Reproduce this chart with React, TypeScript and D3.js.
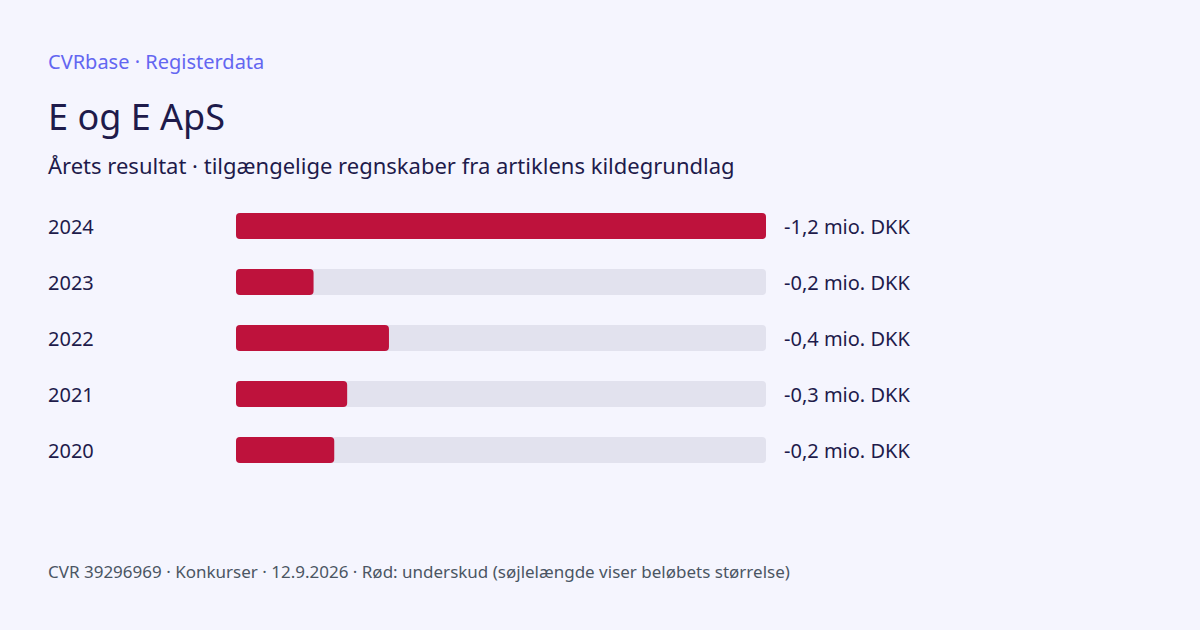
import React from "react";
import * as d3 from "d3";

const years = ["2024", "2023", "2022", "2021", "2020"];
const values = [-1.23, -0.18, -0.355, -0.258, -0.228];
const valueLabels = ["-1,2 mio. DKK", "-0,2 mio. DKK", "-0,4 mio. DKK", "-0,3 mio. DKK", "-0,2 mio. DKK"];

const W = 1200;
const H = 630;
const FONT = "'Noto Sans', sans-serif";

export default function App() {
  const maxAbs = d3.max(values, (v) => Math.abs(v)) as number;
  const x = d3.scaleLinear().domain([0, maxAbs]).range([0, 530]);
  const y = d3.scaleBand().domain(years).range([198, 478]).paddingInner(0.5357).paddingOuter(0.268);
  return (
    <svg width={W} height={H} style={{ position: "absolute", left: 0, top: 0 }} fontFamily={FONT}>
      <rect width={W} height={H} fill="#F5F5FE" />
      <text x={48} y={69} fontSize={20} fill="#6366F1">CVRbase · Registerdata</text>
      <text x={48} y={130} fontSize={36} fill="#1E1B4B">E og E ApS</text>
      <text x={48} y={174} fontSize={22} fill="#1E1B4B">Årets resultat · tilgængelige regnskaber fra artiklens kildegrundlag</text>
      {years.map((yr, i) => {
        const yy = y(yr) as number;
        const bh = y.bandwidth();
        return (
          <g key={yr}>
            <text x={48} y={yy + bh / 2 + 8} fontSize={20} fill="#1E1B4B">{yr}</text>
            <rect x={236} y={yy} width={530} height={bh} rx={4} fill="#E2E2EE" />
            <rect x={236} y={yy} width={x(Math.abs(values[i]))} height={bh} rx={4} fill="#BE123C" />
            <text x={784} y={yy + bh / 2 + 8} fontSize={20} fill="#1E1B4B">{valueLabels[i]}</text>
          </g>
        );
      })}
      <text x={48} y={578} fontSize={17} fill="#4B5563">CVR 39296969 · Konkurser · 12.9.2026 · Rød: underskud (søjlelængde viser beløbets størrelse)</text>
    </svg>
  );
}
